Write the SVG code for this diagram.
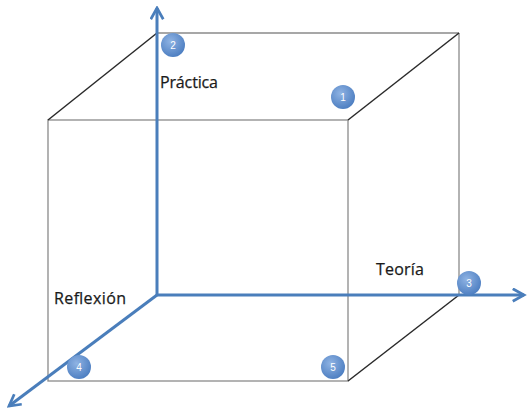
<svg xmlns="http://www.w3.org/2000/svg" width="527" height="410" viewBox="0 0 527 410">
<defs>
<radialGradient id="g" cx="0.4" cy="0.35" r="0.7">
<stop offset="0" stop-color="#8fb3e3"/>
<stop offset="1" stop-color="#4a7cc0"/>
</radialGradient>
<marker id="arr" viewBox="0 0 12 12" refX="10" refY="6" markerWidth="5" markerHeight="5" orient="auto" markerUnits="strokeWidth">
<path d="M1,1 L10,6 L1,11" fill="none" stroke="#4a7ebb" stroke-width="2.2"/>
</marker>
<style>
.front{stroke:#8a8a8a;stroke-width:1.3;fill:none}
.back{stroke:#2a2a2a;stroke-width:1.5;fill:none}
.axis{stroke:#4a7ebb;stroke-width:3;fill:none}
.lbl{font-family:"Open Sans","Liberation Sans",sans-serif;font-size:16px;fill:#1a1a1a;stroke:#1a1a1a;stroke-width:0.25}
.num{font-family:"Liberation Sans",sans-serif;font-size:10px;fill:#fff;text-anchor:middle}
.c{fill:url(#g)}
</style>
</defs>
<g id="connectors">
<rect class="front" x="48" y="120" width="300" height="261"/>
<line class="front" x1="157" y1="33" x2="459" y2="33"/>
<line class="front" x1="459" y1="33" x2="459" y2="295"/>
<line class="back" x1="48" y1="120" x2="157" y2="33"/>
<line class="back" x1="348" y1="120" x2="459" y2="33"/>
<line class="back" x1="348" y1="381" x2="459" y2="295"/>
<line class="axis" x1="157" y1="295" x2="157" y2="8" marker-end="url(#arr)"/>
<line class="axis" x1="157" y1="295" x2="524" y2="295" marker-end="url(#arr)"/>
<line class="axis" x1="157" y1="295" x2="9" y2="406" marker-end="url(#arr)"/>
</g>
<g id="n1"><circle class="c" cx="343" cy="97" r="12"/><text class="num" x="343" y="101">1</text></g>
<g id="n2"><circle class="c" cx="173" cy="45" r="12"/><text class="num" x="173" y="49">2</text></g>
<g id="n3"><circle class="c" cx="469" cy="283" r="12"/><text class="num" x="469" y="287">3</text></g>
<g id="n4"><circle class="c" cx="79" cy="367" r="12"/><text class="num" x="79" y="371">4</text></g>
<g id="n5"><circle class="c" cx="333" cy="367" r="12"/><text class="num" x="333" y="371">5</text></g>
<g id="lblPractica"><text class="lbl" x="160" y="88" textLength="58">Práctica</text></g>
<g id="lblTeoria"><text class="lbl" x="376" y="275" textLength="48">Teoría</text></g>
<g id="lblReflexion"><text class="lbl" x="54" y="304" textLength="72">Reflexión</text></g>
</svg>
